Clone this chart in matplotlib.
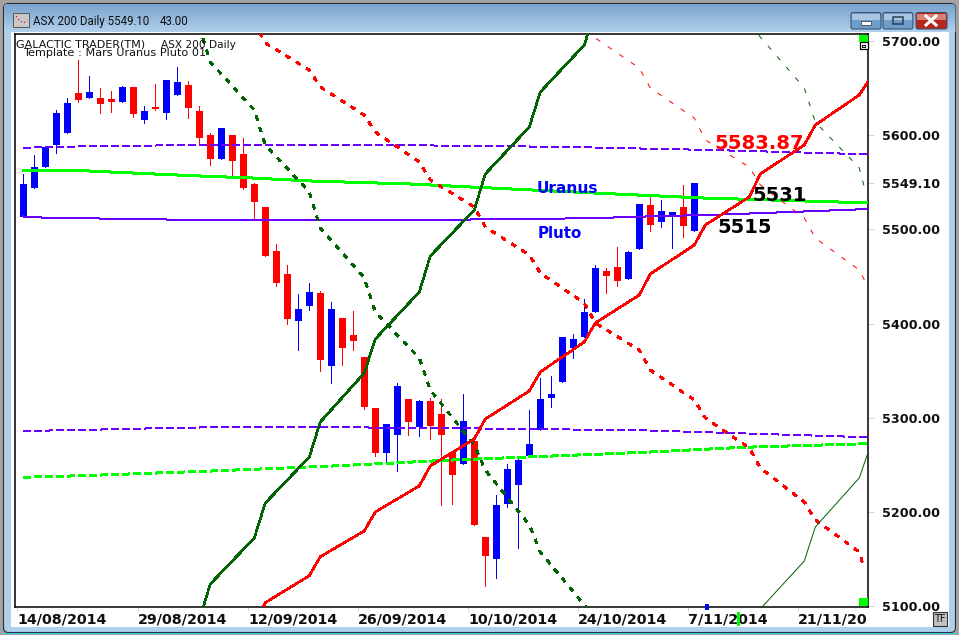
import numpy as np
import matplotlib
matplotlib.use("Agg")
import matplotlib.pyplot as plt
from matplotlib.patches import Rectangle, FancyBboxPatch

# ---------------- candle data (prices) ----------------
body_top = [5548.2,5566.2,5587.4,5623.5,5634.2,5644.8,5645.8,5639.5,5638.4,5651.1,
            5651.1,5625.7,5629.9,5658.6,5656.4,5653.3,5625.7,5600.2,5607.6,5600.2,
            5580.0,5548.2,5523.7,5477.0,5452.6,5415.5,5433.5,5432.4,5415.5,5405.9,
            5387.9,5364.5,5310.4,5293.4,5333.7,5319.9,5317.8,5317.8,5304.0,5263.7,
            5296.6,5275.3,5173.4,5207.4,5245.6,5255.2,5272.1,5319.9,5325.2,5385.7,
            5383.6,5412.3,5459.0,5455.8,5460.0,5476.0,5527.0,5525.9,5519.5,5518.4,
            5523.7,5549.2]
body_bottom = [5513.5,5543.9,5566.2,5589.6,5602.3,5637.3,5639.5,5633.1,5635.2,5635.2,
               5622.5,5616.1,5627.8,5623.5,5642.6,5628.8,5597.0,5574.7,5574.7,5572.6,
               5543.9,5529.0,5471.7,5443.0,5404.8,5402.7,5418.6,5361.3,5355.3,5374.0,
               5381.5,5311.4,5262.6,5262.6,5281.7,5295.5,5290.2,5291.3,5281.7,5239.2,
               5250.9,5186.2,5153.3,5150.0,5208.5,5228.6,5259.4,5287.0,5321.0,5338.0,
               5374.0,5385.7,5412.3,5450.5,5445.2,5447.3,5479.2,5504.6,5507.8,5513.1,
               5503.6,5498.3]
wick_high = [5558.8,5579.0,5587.4,5626.7,5639.5,5679.8,5662.8,5650.1,5646.9,5652.2,
             5651.1,5631.0,5654.3,5658.6,5672.4,5657.5,5631.0,5602.3,5607.6,5600.2,
             5597.0,5549.2,5523.7,5484.5,5462.2,5431.4,5443.0,5434.6,5422.9,5405.9,
             5413.3,5364.5,5310.4,5293.4,5336.9,5319.9,5318.8,5321.0,5319.9,5263.7,
             5325.2,5277.5,5173.4,5218.0,5250.9,5257.3,5308.2,5342.2,5344.3,5385.7,
             5389.0,5426.1,5462.2,5459.0,5481.3,5477.0,5527.0,5534.4,5531.2,5518.4,
             5547.1,5549.2]
wick_low = [5513.5,5543.9,5566.2,5581.4,5602.3,5635.2,5639.5,5623.5,5624.6,5635.2,
            5619.3,5612.9,5626.7,5617.2,5642.6,5618.2,5591.7,5568.3,5574.7,5556.7,
            5542.9,5510.0,5471.7,5439.9,5399.5,5372.0,5414.4,5349.6,5337.2,5356.0,
            5372.0,5309.3,5259.4,5252.0,5243.5,5281.7,5280.6,5277.5,5207.4,5208.5,
            5250.9,5186.2,5121.4,5129.9,5205.3,5161.7,5259.4,5287.0,5311.4,5338.0,
            5363.4,5385.7,5412.3,5432.4,5439.9,5447.3,5479.2,5498.3,5502.5,5480.2,
            5491.9,5498.3]
candle_is_blue = [1,1,1,1,1,0,1,0,0,1,0,1,0,1,1,0,0,0,1,0,0,0,0,0,0,1,1,0,1,0,0,
                  0,0,1,1,0,1,0,0,0,1,0,0,1,1,1,1,1,1,1,1,1,1,0,0,1,1,0,1,1,0,1]

# ---------------- planetary lines (bar index, price) ----------------
steps5 = [21,22,26,27,31,32,36,37,41,42,46,47,51,52,56,57,61,62,66,67,71,72,76]

mars_solid_x = steps5 + [77]
mars_solid_y = [5080.0,5103.7,5132.3,5152.5,5179.8,5200.0,5227.6,5248.8,5277.5,5298.7,5328.4,
                5348.6,5380.4,5400.6,5430.3,5452.6,5483.4,5504.6,5534.4,5558.8,5589.6,5610.8,
                5642.6,5660.7]
mars_dash_x = steps5 + [76.4]
mars_dash_y = [5720.1,5697.9,5669.2,5651.1,5621.4,5603.4,5571.5,5552.4,5523.7,5502.5,5472.8,
               5453.7,5421.8,5400.6,5371.9,5350.7,5318.9,5299.8,5267.9,5246.7,5210.6,5191.5,
               5157.5,5141.6]
mars_thin_x = [51,52,56,57,61,62,66,67,71,72,76,76.6]
mars_thin_y = [5710.6,5703.2,5671.3,5650.1,5618.2,5594.9,5566.2,5547.1,5512.1,5490.8,5456.9,5443.1]

dkgreen_solid_x = [16,17,21,22,26,27,31,32,36,37,41,42,46,47,51,52]
dkgreen_solid_y = [5085.3,5123.5,5172.4,5209.5,5258.3,5295.5,5347.5,5383.6,5433.5,5471.7,5520.6,
                   5558.8,5608.7,5645.8,5695.7,5732.9]
dkgreen_thin_x = [67,71,72,76,77]
dkgreen_thin_y = [5097.0,5147.9,5184.0,5236.1,5270.0]
dkgreen_dash_x = [16,17,21,22,26,27,31,32,36,37,41,42,46,47,51,51.5]
dkgreen_dash_y = [5714.8,5677.7,5626.7,5589.6,5539.7,5501.5,5448.4,5412.3,5363.4,5329.5,5271.1,
                  5244.5,5186.2,5157.5,5101.2,5093.8]
dkgreen_dash2_x = [66,67,71,72,76,76.6]
dkgreen_dash2_y = [5717.0,5704.2,5650.1,5614.0,5565.2,5538.6]

uranus_x = [0,5.9,10.9,16,20.9,26,35.1,40.6,53.9,61.8,74,76.8]
uranus_y = [5563.0,5562.0,5559.3,5556.7,5554.5,5551.4,5548.2,5545.0,5537.5,5533.3,5529.1,5528.0]
pluto_x = [0,0.6,5.4,11.5,18.5,38.5,51.5,58.1,62.4,69.7,76.8]
pluto_y = [5513.7,5512.8,5511.8,5510.7,5509.6,5510.2,5511.8,5514.2,5515.3,5518.4,5521.6]
pluto_up_x = [0,1.3,6.3,13.3,26.3,40.6,49.7,62.4,76.8]
pluto_up_y = [5586.1,5587.4,5588.2,5589.2,5589.8,5588.8,5587.4,5584.3,5579.7]
pluto_lo_x = [0,5.2,10.3,17.2,28.8,40,56.1,76.8]
pluto_lo_y = [5286.0,5287.0,5288.4,5289.9,5289.9,5288.8,5286.7,5279.3]
uranus_lo_x = [0,5.4,17.2,28.8,39.1,56.1,65.4,76.8]
uranus_lo_y = [5236.8,5238.5,5243.5,5249.1,5255.2,5263.1,5268.6,5272.5]

# ---------------- axis labels ----------------
date_ticks = [-0.55,10.45,20.45,30.45,40.45,50.45,60.45,70.45]
date_labels = ["14/08/2014","29/08/2014","12/09/2014","26/09/2014","10/10/2014",
               "24/10/2014","7/11/2014","21/11/20"]
price_ticks = [5100,5200,5300,5400,5500,5549.10,5600,5700]
price_labels = ["5100.00","5200.00","5300.00","5400.00","5500.00","5549.10","5600.00","5700.00"]

W, H = 959, 635
plt.rcParams["font.family"] = ["DejaVu Sans"]
plt.rcParams["lines.scale_dashes"] = False
PX = 0.72
fig = plt.figure(figsize=(W/100, H/100), dpi=100, facecolor="#A3A3A3")

# window chrome (pixel coordinates)
bg = fig.add_axes([0, 0, 1, 1], zorder=0)
bg.set_xlim(0, W); bg.set_ylim(H, 0); bg.axis("off")
frame = FancyBboxPatch((3.5, 3.5), 952, 629, boxstyle="round,pad=0,rounding_size=5",
                       fc="#AFD0EA", ec="#2a2a2a", lw=0.8)
bg.add_patch(frame)
grad = np.linspace(0, 1, 32)[:, None, None] * (np.array([176, 209, 236]) - np.array([122, 163, 205])) + np.array([122, 163, 205])
im = bg.imshow(grad.astype(np.uint8), extent=(3.5, 955.5, 32, 4), aspect="auto", zorder=1, clip_path=None)
im.set_clip_path(frame)
bg.set_xlim(0, W); bg.set_ylim(H, 0)
bg.add_patch(Rectangle((11, 32), 938, 595, fc="white", ec="none", zorder=2))
bg.plot([4, 955], [632.5, 632.5], color="#29C8E6", lw=0.8, zorder=3)
# title icon
bg.add_patch(Rectangle((13, 12.5), 16, 14, fc="#C9C9C9", ec="#555555", lw=0.7, zorder=3))
bg.plot([16, 20, 24, 27], [16, 21, 23, 20], color="#D01010", lw=0.8, ls=":", zorder=4)
bg.text(33, 25, "ASX 200 Daily 5549.10", family="Roboto", fontsize=8.3, color="#101010", zorder=4)
bg.text(160, 25, "43.00", family="Roboto", fontsize=8.3, color="#101010", zorder=4)
# title buttons
for x0, c1, c2 in [(851, "#A8C6E2", "#6F9DCB"), (883, "#A8C6E2", "#6F9DCB"), (916, "#D98074", "#B5261C")]:
    w = 31 if x0 == 916 else 30
    bg.add_patch(FancyBboxPatch((x0, 12.5), w, 16.5, boxstyle="round,pad=0,rounding_size=2",
                                fc=c2, ec="#3b5570", lw=0.8, zorder=3))
    bg.add_patch(Rectangle((x0 + 1, 13.5), w - 2, 6.5, fc=c1, ec="none", zorder=3))
bg.add_patch(Rectangle((861, 21), 10, 4, fc="white", ec="#444444", lw=0.6, zorder=4))
bg.add_patch(Rectangle((893, 16.5), 10, 7.5, fc="none", ec="#2b3f55", lw=1.1, zorder=4))
bg.plot([926, 936], [16, 25], color="white", lw=2.2, zorder=4)
bg.plot([936, 926], [16, 25], color="white", lw=2.2, zorder=4)

# chart
ax = fig.add_axes([15.3/W, (H-606.7)/H, (868.3-15.3)/W, (606.7-34)/H], zorder=1, facecolor="white")
idx = np.arange(len(body_top))
cols = ["#0000FF" if b else "#FF0000" for b in candle_is_blue]
ax.vlines(idx, wick_low, wick_high, colors=cols, lw=1*PX, antialiased=False, zorder=2)
ax.bar(idx, np.array(body_top) - np.array(body_bottom), bottom=body_bottom, width=0.62,
       color=cols, lw=0, antialiased=False, zorder=3)

def draw(x, y, col, lw, dash=None, aa=False):
    ls = "-" if dash is None else (0, (dash[0]*PX, dash[1]*PX))
    ax.plot(x, y, color=col, lw=lw*PX, ls=ls, antialiased=aa, zorder=4,
            solid_joinstyle="round", dash_capstyle="butt")

GREEN, DK, RED, PUR = "#00FF00", "#006400", "#FF0000", "#6A00FF"
draw(pluto_up_x, pluto_up_y, PUR, 1.0, (7, 4))
draw(pluto_lo_x, pluto_lo_y, PUR, 1.0, (7, 4))
draw(pluto_x, pluto_y, PUR, 1.0)
draw(uranus_x, uranus_y, GREEN, 2.0)
draw(uranus_lo_x, uranus_lo_y, GREEN, 2.0, (7, 4))
draw(dkgreen_dash_x, dkgreen_dash_y, DK, 1.6, (5, 8))
draw(dkgreen_dash2_x, dkgreen_dash2_y, DK, 1.0, (5, 9), aa=True)
draw(mars_dash_x, mars_dash_y, RED, 1.6, (5, 8))
draw(mars_thin_x, mars_thin_y, RED, 1.0, (5, 9), aa=True)
draw(dkgreen_thin_x, dkgreen_thin_y, DK, 1.0, aa=True)
draw(dkgreen_solid_x, dkgreen_solid_y, DK, 1.6)
draw(mars_solid_x, mars_solid_y, RED, 1.6)

ax.set_xlim(-0.727, 76.82)
ax.set_ylim(5099.4, 5707.4)
for s in ax.spines.values():
    s.set_linewidth(1.1); s.set_color("black")
ax.yaxis.tick_right()
ax.set_yticks(price_ticks, price_labels, fontsize=9.2, fontweight="bold", color="#101010")
ax.set_xticks(date_ticks, date_labels, fontsize=10.3, fontweight="bold", color="#101010", ha="left")
ax.tick_params(axis="y", length=4, width=0.7, color="#D4D4D4", pad=6.2)
ax.tick_params(axis="x", length=3, width=0.7, color="#D4D4D4", pad=1.5)
for t in ax.get_xticklabels():
    t.set_clip_on(False)

ax.text(62.8, 5585.3, "5583.87", color="#FF0000", fontsize=14.1, fontweight="bold", zorder=6)
ax.text(66.3, 5530.5, "5531", color="black", fontsize=14, fontweight="bold", zorder=6)
ax.text(63.06, 5496.2, "5515", color="black", fontsize=14, fontweight="bold", zorder=6)
ax.text(46.7, 5538.6, "Uranus", color="#0000FF", fontsize=11.1, fontweight="bold", zorder=6)
ax.text(46.8, 5491.1, "Pluto", color="#0000FF", fontsize=10.8, fontweight="bold", zorder=6)

# overlay in pixels
ov = fig.add_axes([0, 0, 1, 1], zorder=2)
ov.set_xlim(0, W); ov.set_ylim(H, 0); ov.axis("off"); ov.patch.set_alpha(0)
ov.text(16, 47.5, "GALACTIC TRADER(TM)", fontsize=8.0, color="#111111")
ov.text(161, 47.5, "ASX 200 Daily", fontsize=7.6, color="#111111")
ov.text(23, 55.5, "Template : Mars Uranus Pluto 01", fontsize=8.1, color="#111111")
ov.add_patch(Rectangle((859, 35), 9, 7, fc="#00FF00", ec="none"))
ov.add_patch(Rectangle((859.5, 42), 8, 7, fc="white", ec="black", lw=0.9))
ov.add_patch(Rectangle((862, 44.5), 3, 2, fc="white", ec="black", lw=0.7))
ov.add_patch(Rectangle((859, 598), 9, 8, fc="#00FF00", ec="none"))
ov.add_patch(Rectangle((705, 604), 4, 6, fc="#0000FF", ec="none"))
ov.add_patch(Rectangle((737, 612), 3, 14, fc="#00FF00", ec="none"))
ov.add_patch(Rectangle((933, 612), 14, 14, fc="#C0C0C0", ec="#333333", lw=0.8))
ov.text(940, 622.5, "TF", fontsize=7, ha="center", color="#111111")

fig.savefig("out.png", dpi=100, facecolor=fig.get_facecolor())
